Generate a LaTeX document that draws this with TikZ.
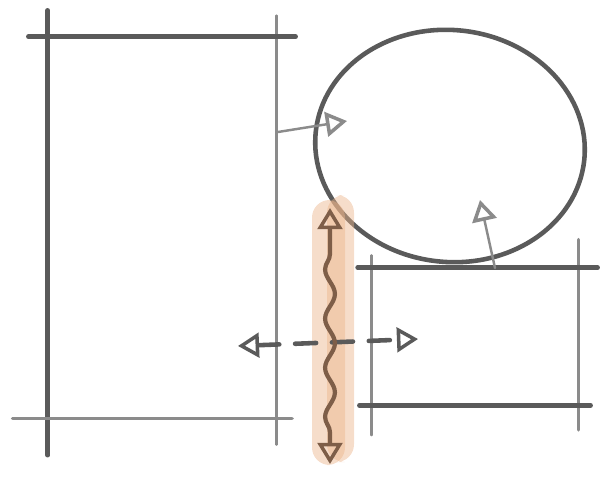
\documentclass[tikz,border=0pt]{standalone}
\usepackage{tikz}
\usetikzlibrary{arrows.meta,shapes.geometric,decorations.pathmorphing}
\definecolor{pencil}{HTML}{5A5A5A}
\definecolor{peach}{HTML}{EBB48A}
\definecolor{umber}{HTML}{7E5E48}

\tikzset{
    sketch/.style={line width=2.6pt, pencil, line cap=round},
    faint/.style={line width=1.4pt, pencil!70, line cap=round},
    opentip/.tip={Triangle[open, length=12pt, width=14pt, line width=2pt]},
    tip/.style={-opentip},
}

\begin{document}
\begin{tikzpicture}[x=0.02cm, y=-0.02cm, >=Stealth]

    \useasboundingbox (0,0) rectangle (602,500);

    % Formes
    \node[minimum width=4.56cm, minimum height=7.62cm, inner sep=0pt] (tall) at (162,227.5) {};
    \node[ellipse, minimum width=5.4cm, minimum height=4.64cm, inner sep=0pt,
          sketch, draw, rotate=-6] (round) at (450,146) {};
    \node[minimum width=4.12cm, minimum height=2.74cm, inner sep=0pt] (low) at (475,336.5) {};

    % Rectangle alt
    \draw[sketch, shorten <=-15pt, shorten >=-21pt] (tall.north west) -- (tall.south west);
    \draw[faint, shorten <=-12pt, shorten >=-15pt] (tall.north east) -- (tall.south east);
    \draw[sketch, shorten <=-11pt, shorten >=-11pt] (tall.north west) -- (tall.north east);
    \draw[faint, line width=2pt, shorten <=-20pt, shorten >=-9pt] (tall.south west) -- (tall.south east);

    % Rectangle baix
    \draw[faint, shorten <=-7pt, shorten >=-17pt] (low.north west) -- (low.south west);
    \draw[faint, line width=2pt, shorten <=-16pt, shorten >=-14pt] (low.north east) -- (low.south east);
    \draw[sketch, shorten <=-8pt, shorten >=-11pt] (low.north west) -- (low.north east);
    \draw[sketch, shorten <=-7pt, shorten >=-7pt] (low.south west) -- (low.south east);

    % Extrems de les fletxes
    \coordinate (a1) at (278,132);
    \coordinate (a2) at (347,121);
    \coordinate (b1) at (495,268);
    \coordinate (b2) at (480,200);
    \coordinate (c1) at (238,346);
    \coordinate (c2) at (418,339);
    \coordinate (d1) at (330,464);
    \coordinate (d2) at (330,208);

    % Ressaltat
    \fill[peach, opacity=0.45, rounded corners=10pt] (312,200) rectangle (345,465);
    \fill[peach, opacity=0.45, rounded corners=10pt] (327,195) rectangle (354,462);

    % Fletxes
    \draw[faint, tip] (a1) -- (a2);
    \draw[faint, tip] (b1) -- (b2);
    \draw[sketch, dash pattern=on 12pt off 9pt, opentip-opentip] (c1) -- (c2);

    % Ona
    \draw[line width=2.4pt, umber, line cap=round, opentip-opentip,
          decorate, decoration={snake, amplitude=2.8pt, segment length=28pt,
                                pre length=18pt, post length=18pt}]
        (d1) -- (d2);

\end{tikzpicture}
\end{document}
